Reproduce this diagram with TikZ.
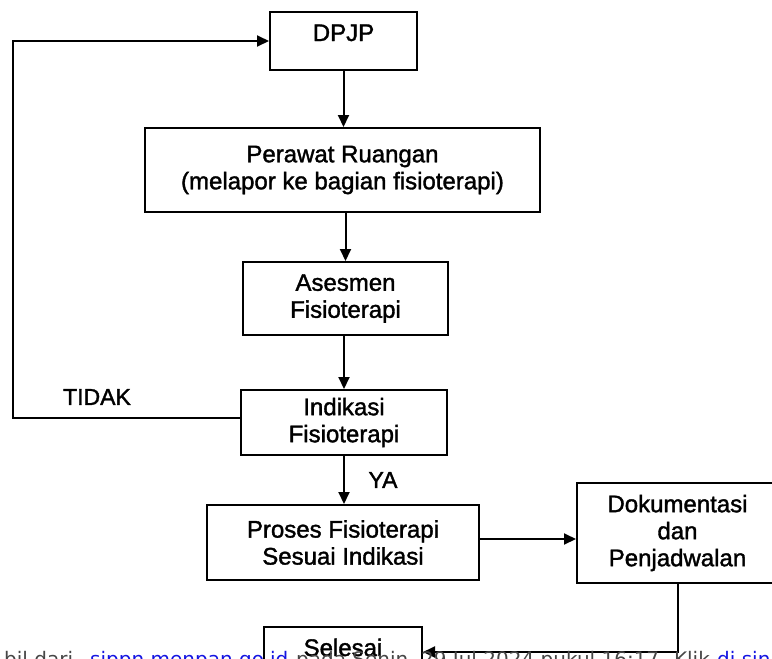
\documentclass[tikz,border=0pt]{standalone}
\usepackage{fontspec}
\setmainfont{Liberation Sans}
\newfontfamily\boxfont{Liberation Sans}[FakeBold=1.5]
\newfontfamily\notefont{DejaVu Sans}
\usetikzlibrary{arrows.meta,calc}
\definecolor{linkblue}{RGB}{20,20,225}
\definecolor{notegray}{RGB}{70,70,70}
\begin{document}
\begin{tikzpicture}[x=1pt,y=-1pt,
  box/.style={draw, line width=2pt, align=center, inner sep=0pt, fill=white,
              font=\boxfont\fontsize{24}{27}\selectfont},
  onebox/.style={box, text height=17pt, text depth=17pt},
  arr/.style={line width=2pt, -{Triangle[length=12pt,width=11pt]}},
  lbl/.style={font=\boxfont\fontsize{23}{27}\selectfont, inner sep=0pt},
  note/.style={font=\notefont\fontsize{20}{24}\selectfont, anchor=base west, inner sep=0pt}]
\useasboundingbox (0,0) rectangle (772,659);
\clip (0,0) rectangle (772,659);

% boxes
\node[onebox, minimum width=147pt, minimum height=58pt] (dpjp) at (343.5,41) {DPJP};
\node[box, minimum width=395pt, minimum height=84pt] (perawat) at (342.5,170)
  {Perawat Ruangan\\(melapor ke bagian fisioterapi)};
\node[box, minimum width=205pt, minimum height=73pt] (asesmen) at (345.5,298.5)
  {Asesmen\\Fisioterapi};
\node[box, minimum width=206pt, minimum height=65pt] (indikasi) at (344,422.5)
  {Indikasi\\Fisioterapi};
\node[box, minimum width=272pt, minimum height=75pt] (proses) at (343,542.5)
  {Proses Fisioterapi\\Sesuai Indikasi};
\node[box, minimum width=201pt, minimum height=100pt] (dok) at (677.5,533)
  {Dokumentasi\\dan\\Penjadwalan};
\node[onebox, minimum width=158pt, minimum height=58pt] (selesai) at (343,656) {Selesai};

% labels
\node[lbl] (tidak) at (97,397) {TIDAK};
\node[lbl] (ya) at (383,480) {YA};

% connectors
\coordinate (corner) at (13,418);
\draw[arr] (dpjp.south) -- (dpjp.south |- perawat.north);
\draw[arr] (perawat.south -| asesmen.north) -- (asesmen.north);
\draw[arr] (asesmen.south -| indikasi.north) -- (indikasi.north);
\draw[arr] (indikasi.south) -- (indikasi.south |- proses.north);
\draw[arr] ([yshift=3.5pt]proses.east) -- ([yshift=3.5pt]proses.east -| dok.west);
\draw[arr] (dok.south) |- ([yshift=4pt]selesai.east);
\draw[arr] ([yshift=4.5pt]indikasi.west) -- (corner) |- (dpjp.west);

% overlaid caption line (cut by the bottom edge)
\node[note, text=notegray] (n1) at (4,666) {bil dari};
\node[note, text=linkblue] (n2) at (90,666) {sippn.menpan.go.id};
\node[note, text=notegray] (n3) at (296,666) {pada Senin, 29 Jul 2024 pukul 16:17. Klik};
\node[note, text=linkblue] (n4) at (717,666) {di sini};
\end{tikzpicture}
\end{document}
